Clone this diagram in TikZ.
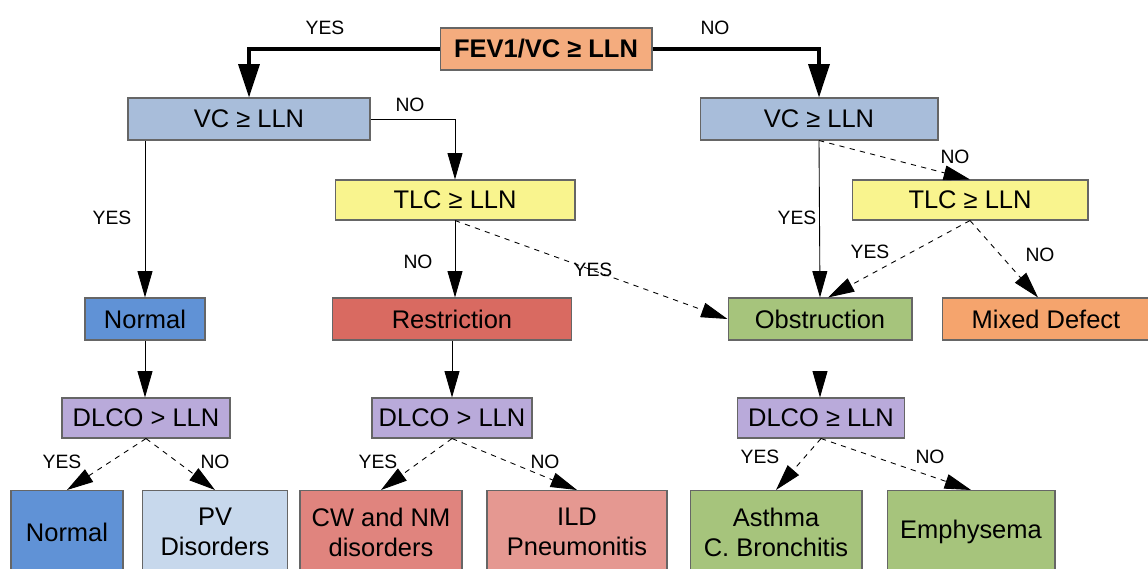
\documentclass[tikz,border=0pt]{standalone}
\usepackage{fontspec}
\setmainfont{Liberation Sans}
\usetikzlibrary{arrows.meta}

\definecolor{fevorange}{HTML}{F4AC7E}
\definecolor{vcblue}{HTML}{A8BDDA}
\definecolor{tlcyellow}{HTML}{F9F48E}
\definecolor{normblue}{HTML}{6092D6}
\definecolor{pvblue}{HTML}{C7D8EC}
\definecolor{restred}{HTML}{D96A61}
\definecolor{cwred}{HTML}{E0847E}
\definecolor{ildred}{HTML}{E59891}
\definecolor{obsgreen}{HTML}{A6C47C}
\definecolor{mixorange}{HTML}{F5A46D}
\definecolor{dlcopurple}{HTML}{B9AADA}

\begin{document}
\begin{tikzpicture}[x=0.02cm, y=-0.02cm,
    box/.style={rectangle, draw=black!60, line width=0.6pt, inner sep=0pt, align=center,
                font=\fontsize{14.5}{17}\selectfont},
    lbl/.style={font=\fontsize{11}{13}\selectfont},
    flow/.style={-{Triangle[length=15pt,width=8.5pt]}, line width=0.5pt},
    dflow/.style={flow, dashed},
    bigflow/.style={-{Triangle[length=19pt,width=12pt]}, line width=1.8pt}]
    \useasboundingbox (0,0) rectangle (1148,568);

    % First test
    \node [box, fill=fevorange, minimum width=4.24cm, minimum height=0.84cm, font=\fontsize{14.5}{17}\selectfont\bfseries] (fev) at (546,49) {FEV1/VC ≥ LLN};

    % Second level
    \node [box, fill=vcblue, minimum width=4.84cm, minimum height=0.84cm] (vcl) at (249,119) {VC ≥ LLN};
    \node [box, fill=vcblue, minimum width=4.76cm, minimum height=0.84cm] (vcr) at (819,119) {VC ≥ LLN};
    \node [box, fill=tlcyellow, minimum width=4.8cm, minimum height=0.8cm] (tlcl) at (455,200) {TLC ≥ LLN};
    \node [box, fill=tlcyellow, minimum width=4.72cm, minimum height=0.8cm] (tlcr) at (970,200) {TLC ≥ LLN};

    % Patterns
    \node [box, fill=normblue, minimum width=2.4cm, minimum height=0.84cm] (normal) at (145,319) {Normal};
    \node [box, fill=restred, minimum width=4.78cm, minimum height=0.84cm] (restr) at (452,319) {Restriction};
    \node [box, fill=obsgreen, minimum width=3.68cm, minimum height=0.84cm] (obstr) at (820,319) {Obstruction};
    \node [box, fill=mixorange, minimum width=4.14cm, minimum height=0.84cm] (mixed) at (1046,319) {Mixed Defect};

    % Diffusion tests
    \node [box, fill=dlcopurple, minimum width=3.36cm, minimum height=0.8cm] (dlcol) at (146,418) {DLCO > LLN};
    \node [box, fill=dlcopurple, minimum width=3.2cm, minimum height=0.8cm] (dlcom) at (452,418) {DLCO > LLN};
    \node [box, fill=dlcopurple, minimum width=3.34cm, minimum height=0.8cm] (dlcor) at (821,418) {DLCO ≥ LLN};

    % Diagnoses
    \node [box, fill=normblue, minimum width=2.24cm, minimum height=1.66cm] (nrm) at (67,532) {Normal};
    \node [box, fill=pvblue, minimum width=2.9cm, minimum height=1.66cm] (pv) at (215,532) {PV\\Disorders};
    \node [box, fill=cwred, minimum width=3.24cm, minimum height=1.66cm] (cw) at (381,532) {CW and NM\\disorders};
    \node [box, fill=ildred, minimum width=3.6cm, minimum height=1.66cm] (ild) at (577,532) {ILD\\Pneumonitis};
    \node [box, fill=obsgreen, minimum width=3.44cm, minimum height=1.66cm] (asth) at (776,532) {Asthma\\C. Bronchitis};
    \node [box, fill=obsgreen, minimum width=3.36cm, minimum height=1.66cm] (emph) at (971,532) {Emphysema};

    % Arrows
    \draw [bigflow] (fev.west) -| (vcl.north);
    \draw [bigflow] (fev.east) -| (vcr.north);
    \draw [flow] (vcl.east) -| (tlcl.north);
    \draw [flow] (vcl.south -| normal.north) -- (normal.north);
    \draw [flow] (tlcl.south) -- (tlcl.south |- restr.north);
    \draw [dflow] (tlcl.south) -- (obstr.west);
    \draw [flow] (vcr.south) -- (obstr.north);
    \draw [dflow] (vcr.south) -- (tlcr.north);
    \draw [dflow] (tlcr.south) -- ([xshift=0.16cm]obstr.north);
    \draw [dflow] (tlcr.south) -- ([xshift=-0.16cm]mixed.north);
    \draw [flow] (normal.south) -- (normal.south |- dlcol.north);
    \draw [flow] (restr.south) -- (dlcom.north);
    \draw [flow, shorten <=0.62cm] (obstr.south) -- (obstr.south |- dlcor.north);
    \draw [dflow] (dlcol.south) -- (nrm.north);
    \draw [dflow] (dlcol.south) -- (pv.north);
    \draw [dflow] (dlcom.south) -- (cw.north);
    \draw [dflow] (dlcom.south) -- (ild.north);
    \draw [dflow] (dlcor.south) -- (asth.north);
    \draw [dflow] (dlcor.south) -- (emph.north);

    % Answers
    \node [lbl] (a1) at (325,28) {YES};
    \node [lbl] (a2) at (715,28) {NO};
    \node [lbl] (a3) at (410,105) {NO};
    \node [lbl] (a4) at (112,218) {YES};
    \node [lbl] (a5) at (418,262) {NO};
    \node [lbl] (a6) at (593,270) {YES};
    \node [lbl] (a7) at (797,218) {YES};
    \node [lbl] (a8) at (955,157) {NO};
    \node [lbl] (a9) at (870,252) {YES};
    \node [lbl] (a10) at (1040,255) {NO};
    \node [lbl] (a11) at (62,462) {YES};
    \node [lbl] (a12) at (215,462) {NO};
    \node [lbl] (a13) at (378,462) {YES};
    \node [lbl] (a14) at (545,462) {NO};
    \node [lbl] (a15) at (760,457) {YES};
    \node [lbl] (a16) at (930,457) {NO};
\end{tikzpicture}
\end{document}
